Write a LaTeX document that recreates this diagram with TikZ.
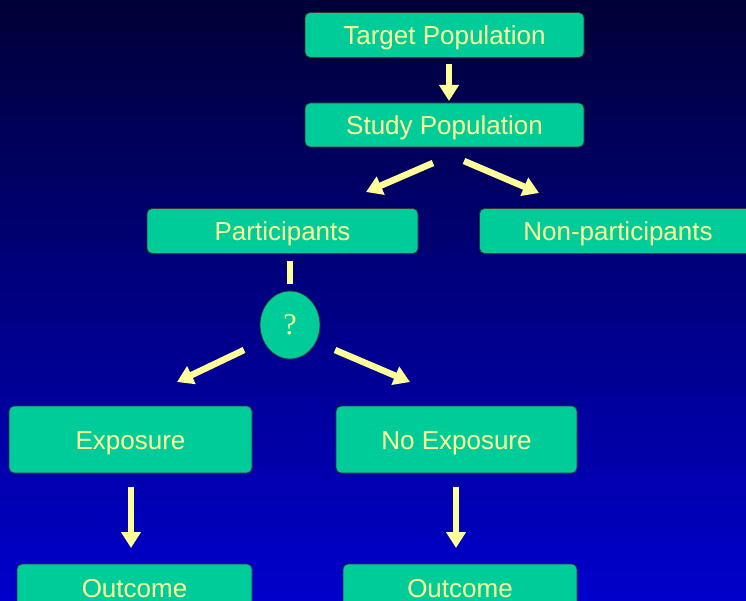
\documentclass[tikz,border=0pt]{standalone}
\usepackage{fontspec}
\setmainfont{Liberation Sans}
\newfontfamily\qfont{Liberation Serif}
\usetikzlibrary{arrows.meta,shapes.geometric}
\definecolor{boxfill}{RGB}{0,204,153}
\definecolor{txt}{RGB}{255,255,153}
\definecolor{bgtop}{RGB}{0,0,55}
\definecolor{bgbot}{RGB}{0,0,205}
\tikzset{
  box/.style={draw=black!80, line width=0.8pt, fill=boxfill, rounded corners=5pt,
    text=txt, font=\fontsize{26}{28}\selectfont, inner sep=0pt, anchor=center,
    text height=19pt, text depth=0pt},
  blockarrow/.style={draw=txt, line width=6.5pt,
    -{Triangle[width=19pt,length=16pt]}},
  bar/.style={draw=txt, line width=6.5pt}
}
\begin{document}
\begin{tikzpicture}[x=1pt,y=-1pt]
\useasboundingbox (0,0) rectangle (746,601);
\shade[top color=bgtop, bottom color=bgbot] (0,0) rectangle (746,601);
\begin{scope}
\clip (0,0) rectangle (746,601);
\node[box, minimum width=279pt, minimum height=45pt] (target) at (444.5,35) {Target Population};
\node[box, minimum width=279pt, minimum height=44pt] (study) at (444.5,125) {Study Population};
\node[box, minimum width=271pt, minimum height=45pt] (part) at (282.5,231) {Participants};
\node[box, minimum width=277pt, minimum height=45pt] (nonpart) at (618,231) {Non-participants};
\node[draw=black!80, line width=0.8pt, fill=boxfill, ellipse, minimum width=60pt, minimum height=68pt,
  inner sep=0pt, text=txt, font=\qfont\fontsize{30}{32}\selectfont] (q) at (290,325) {?};
\node[box, minimum width=243pt, minimum height=67pt] (expo) at (130.5,439.5) {Exposure};
\node[box, minimum width=241pt, minimum height=67pt] (noexpo) at (456.5,439.5) {No Exposure};
\node[box, minimum width=235pt, minimum height=67pt] (out1) at (134.5,597.5) {};
\node[box, minimum width=234pt, minimum height=67pt] (out2) at (460,597.5) {};
\node[text=txt, font=\fontsize{26}{28}\selectfont, anchor=base, inner sep=0pt] (out1t) at (134.5,597) {Outcome};
\node[text=txt, font=\fontsize{26}{28}\selectfont, anchor=base, inner sep=0pt] (out2t) at (460,597) {Outcome};
\end{scope}
% arrow end points
\coordinate (a1s) at (449,64);   \coordinate (a1e) at (449,101);
\coordinate (a2s) at (433,163);  \coordinate (a2e) at (366,192);
\coordinate (a3s) at (464,161);  \coordinate (a3e) at (539,193);
\coordinate (b1s) at (290,261);  \coordinate (b1e) at (290,284);
\coordinate (a4s) at (244,350);  \coordinate (a4e) at (177,382);
\coordinate (a5s) at (335,350);  \coordinate (a5e) at (410,382);
\coordinate (a6s) at (131,487);  \coordinate (a6e) at (131,548);
\coordinate (a7s) at (456,487);  \coordinate (a7e) at (456,548);
\draw[blockarrow] (a1s) -- (a1e);
\draw[blockarrow] (a2s) -- (a2e);
\draw[blockarrow] (a3s) -- (a3e);
\draw[bar] (b1s) -- (b1e);
\draw[blockarrow] (a4s) -- (a4e);
\draw[blockarrow] (a5s) -- (a5e);
\draw[blockarrow] (a6s) -- (a6e);
\draw[blockarrow] (a7s) -- (a7e);
\end{tikzpicture}
\end{document}
